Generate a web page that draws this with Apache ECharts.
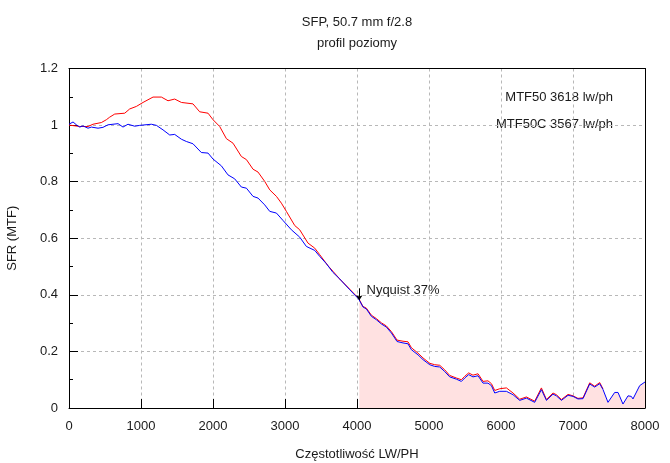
<!DOCTYPE html>
<html>
<head>
<meta charset="utf-8">
<script src="https://cdn.jsdelivr.net/npm/echarts@6/dist/echarts.min.js"></script>
<style>html,body{margin:0;padding:0;background:#fff;}#c{width:670px;height:463px;}</style>
</head>
<body>
<div id="c"></div>
<script>
// ---- data ----
const titleText = "SFP, 50.7 mm f/2.8";
const subtitleText = "profil poziomy";
const mtfTexts = ["MTF50 3618 lw/ph", "MTF50C 3567 lw/ph"];
const nyquistFreq = 4032;
const nyquistLabel = "Nyquist 37%";

const redFreq = [0,150,264,333,450,519,565,635,774,843,936,1028,1167,1283,1375,1468,1561,1722,1815,1931,2000,2093,2186,2278,2394,2464,2556,2625,2718,2788,2881,2950,3019,3135,3204,3319,3413,3482,3597,3667,3760,3899,4024,4083,4130,4200,4269,4339,4408,4478,4556,4639,4708,4756,4847,4917,5010,5079,5149,5218,5288,5380,5450,5496,5551,5611,5681,5750,5819,5867,5913,5982,6075,6167,6260,6353,6468,6561,6631,6722,6769,6839,6931,7000,7069,7139,7232,7301,7371,7417];
const redSfr = [1.000,0.995,0.995,1.003,1.009,1.019,1.028,1.039,1.042,1.057,1.066,1.080,1.099,1.099,1.086,1.092,1.080,1.075,1.047,1.042,1.019,0.995,0.952,0.936,0.889,0.878,0.844,0.834,0.801,0.771,0.748,0.724,0.695,0.645,0.630,0.583,0.565,0.542,0.503,0.483,0.456,0.420,0.387,0.359,0.353,0.328,0.316,0.301,0.290,0.270,0.240,0.236,0.234,0.213,0.194,0.177,0.158,0.153,0.151,0.135,0.115,0.106,0.100,0.112,0.124,0.116,0.121,0.094,0.096,0.086,0.062,0.068,0.071,0.053,0.031,0.039,0.024,0.071,0.030,0.053,0.047,0.030,0.048,0.043,0.034,0.036,0.089,0.077,0.090,0.067];

const blueFreq = [0,56,102,149,194,264,311,403,472,542,681,750,819,913,982,1144,1214,1306,1399,1468,1561,1630,1722,1838,1931,2000,2116,2208,2301,2394,2464,2556,2625,2718,2788,2881,2972,3088,3204,3297,3413,3482,3575,3667,3760,3899,4024,4083,4130,4200,4269,4339,4408,4478,4556,4639,4708,4756,4847,4917,5010,5079,5149,5218,5288,5380,5450,5496,5551,5611,5681,5750,5819,5867,5913,5982,6075,6167,6260,6353,6468,6561,6631,6722,6769,6839,6931,7000,7069,7139,7232,7301,7371,7417,7486,7579,7625,7694,7764,7810,7833,7926,8000];
const blueSfr = [1.003,1.011,1.001,0.993,0.997,0.989,0.993,0.989,0.992,1.001,1.005,0.993,1.003,0.996,0.999,1.003,0.999,0.983,0.965,0.967,0.950,0.942,0.934,0.903,0.901,0.880,0.856,0.824,0.810,0.781,0.777,0.748,0.742,0.718,0.695,0.689,0.663,0.630,0.604,0.571,0.557,0.536,0.510,0.479,0.456,0.418,0.385,0.357,0.350,0.324,0.312,0.297,0.286,0.265,0.235,0.230,0.227,0.206,0.188,0.171,0.153,0.147,0.145,0.129,0.110,0.102,0.094,0.106,0.118,0.110,0.114,0.088,0.088,0.079,0.053,0.059,0.059,0.047,0.027,0.035,0.020,0.065,0.027,0.049,0.043,0.027,0.045,0.041,0.032,0.033,0.085,0.074,0.086,0.065,0.020,0.055,0.055,0.014,0.043,0.041,0.032,0.079,0.092];

const xTicks = {min: 0, max: 8000, step: 1000};
const yTicks = {min: 0, max: 1.2, step: 0.2};

// ---- build ----
const zip = (xs, ys) => xs.map((x, i) => [x, ys[i]]);
const redData = zip(redFreq, redSfr);
const blueData = zip(blueFreq, blueSfr);

function interp(xs, ys, x) {
  for (let i = 1; i < xs.length; i++) {
    if (xs[i] >= x) {
      const t = (x - xs[i-1]) / (xs[i] - xs[i-1]);
      return ys[i-1] + t * (ys[i] - ys[i-1]);
    }
  }
  return ys[ys.length - 1];
}
const nyqVal = interp(blueFreq, blueSfr, nyquistFreq);
const fillData = [[nyquistFreq, nyqVal]].concat(blueData.filter(p => p[0] > nyquistFreq));

const FONT = "Liberation Sans, Arial, sans-serif";
const TXT = "#1a1a1a";
const gridLine = {show: true, lineStyle: {color: '#b8b8b8', type: [3, 3], width: 1}};
const frameAxis = {
  z: 10,
  axisLine: {show: true, onZero: false, lineStyle: {color: '#000', width: 1}},
  axisTick: {show: false}, axisLabel: {show: false}, splitLine: {show: false}
};

const chart = echarts.init(document.getElementById('c'), null, {renderer: 'canvas'});
chart.setOption({
  animation: false,
  backgroundColor: '#fff',
  textStyle: {fontFamily: FONT},
  grid: {left: 69, right: 25, top: 68.5, bottom: 55, outerBoundsMode: 'none', containLabel: false},
  graphic: [
    {type: 'text', x: 357, y: 22, style: {text: titleText, fontSize: 13, fontFamily: FONT, fill: TXT, align: 'center', verticalAlign: 'middle'}},
    {type: 'text', x: 357, y: 43, style: {text: subtitleText, fontSize: 13, fontFamily: FONT, fill: TXT, align: 'center', verticalAlign: 'middle'}},
    {type: 'text', x: 613, y: 97, style: {text: mtfTexts[0], fontSize: 13, fontFamily: FONT, fill: TXT, align: 'right', verticalAlign: 'middle'}},
    {type: 'text', x: 613, y: 124, style: {text: mtfTexts[1], fontSize: 13, fontFamily: FONT, fill: TXT, align: 'right', verticalAlign: 'middle', backgroundColor: '#fff'}}
  ],
  xAxis: [{
    type: 'value', min: xTicks.min, max: xTicks.max, interval: xTicks.step, position: 'bottom',
    name: 'Częstotliwość LW/PH', nameLocation: 'middle', nameGap: 40,
    nameTextStyle: {fontSize: 13, color: TXT, fontFamily: FONT},
    axisLine: {show: true, onZero: false, lineStyle: {color: '#000', width: 1}},
    axisTick: {show: true, inside: true, length: 9, lineStyle: {color: '#000'}},
    axisLabel: {fontSize: 13, color: TXT, margin: 12, fontFamily: FONT, formatter: v => String(v)},
    splitLine: gridLine
  }, Object.assign({type: 'value', min: xTicks.min, max: xTicks.max, interval: xTicks.step, position: 'top'}, frameAxis)],
  yAxis: [{
    type: 'value', min: yTicks.min, max: yTicks.max, interval: yTicks.step, position: 'left',
    name: 'SFR (MTF)', nameLocation: 'middle', nameGap: 50, nameRotate: 90,
    nameTextStyle: {fontSize: 13, color: TXT, fontFamily: FONT},
    axisLine: {show: true, onZero: false, lineStyle: {color: '#000', width: 1}},
    axisTick: {show: true, inside: true, length: 9, lineStyle: {color: '#000'}},
    minorTick: {show: true, splitNumber: 2, length: 4, lineStyle: {color: '#000'}},
    axisLabel: {fontSize: 13, color: TXT, margin: 11, fontFamily: FONT},
    splitLine: gridLine
  }, Object.assign({type: 'value', min: yTicks.min, max: yTicks.max, interval: yTicks.step, position: 'right'}, frameAxis)],
  series: [
    {
      type: 'line', data: fillData, showSymbol: false, symbol: 'none',
      lineStyle: {width: 0, opacity: 0},
      areaStyle: {color: '#ffe1e1', opacity: 1},
      z: 1, silent: true
    },
    {
      type: 'line', data: redData, showSymbol: false, symbol: 'none',
      lineStyle: {color: '#ff0000', width: 1}, z: 2, silent: true
    },
    {
      type: 'line', data: blueData, showSymbol: false, symbol: 'none',
      lineStyle: {color: '#0000ff', width: 1}, z: 3, silent: true,
      markLine: {
        silent: true, symbol: ['none', 'arrow'], symbolSize: [5, 5],
        lineStyle: {color: '#000', width: 1, type: 'solid'},
        label: {show: false},
        data: [[{coord: [nyquistFreq, nyqVal + 0.042]}, {coord: [nyquistFreq, nyqVal]}]]
      },
      markPoint: {
        silent: true, symbol: 'circle', symbolSize: 0,
        label: {show: true, position: 'right', distance: 0, formatter: nyquistLabel, fontSize: 13, color: TXT, fontFamily: FONT},
        data: [{coord: [nyquistFreq + 100, nyqVal + 0.033]}]
      }
    }
  ]
});
</script>
</body>
</html>
